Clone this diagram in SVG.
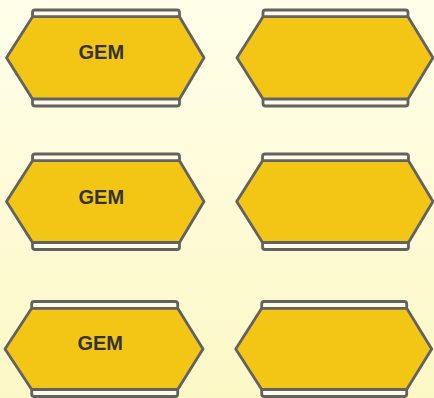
<svg xmlns="http://www.w3.org/2000/svg" width="434" height="398" viewBox="0 0 434 398">
<defs>
<linearGradient id="bg" x1="0" y1="0" x2="0" y2="1">
<stop offset="0" stop-color="#fffee9"/>
<stop offset="1" stop-color="#fcf8c6"/>
</linearGradient>
</defs>
<style>
.hex{fill:#f3c616;stroke:#626262;stroke-width:2.8;stroke-linejoin:round}
.bar{fill:#fffbe6;stroke:#626262;stroke-width:2.8}
.lbl{font-family:"Liberation Sans",Arial,sans-serif;font-weight:bold;font-size:20px;fill:#333;text-anchor:middle}
</style>
<rect width="434" height="398" fill="url(#bg)"/>
<g id="connectors"/>
<g id="n1">
<rect class="bar" x="32.5" y="10" width="147" height="8" rx="2.5"/>
<rect class="bar" x="32.5" y="98" width="147" height="8" rx="2.5"/>
<polygon class="hex" points="6.5,57.8 32.5,16.7 179.5,16.7 204,57.8 179.5,99 32.5,99"/>
<text class="lbl" x="101.3" y="58.7">GEM</text>
</g>
<g id="n2">
<rect class="bar" x="263" y="10" width="145" height="8" rx="2.5"/>
<rect class="bar" x="263" y="98" width="145" height="8" rx="2.5"/>
<polygon class="hex" points="237,57.8 263,16.7 408,16.7 433,57.8 408,99 263,99"/>
</g>
<g id="n3">
<rect class="bar" x="32.5" y="154" width="147" height="8" rx="2.5"/>
<rect class="bar" x="32.5" y="241.5" width="147" height="8" rx="2.5"/>
<polygon class="hex" points="6.5,201.5 32.5,160.7 179.5,160.7 204,201.5 179.5,242.5 32.5,242.5"/>
<text class="lbl" x="101.3" y="203.6">GEM</text>
</g>
<g id="n4">
<rect class="bar" x="262.5" y="154" width="146" height="8" rx="2.5"/>
<rect class="bar" x="262.5" y="241.5" width="146" height="8" rx="2.5"/>
<polygon class="hex" points="236.7,201.5 262.5,160.7 408.5,160.7 433,201.5 408.5,242.5 262.5,242.5"/>
</g>
<g id="n5">
<rect class="bar" x="31.7" y="301.5" width="146" height="8" rx="2.5"/>
<rect class="bar" x="31.7" y="388.5" width="146" height="8" rx="2.5"/>
<polygon class="hex" points="5,349 31.7,308.3 177.7,308.3 203,349 177.7,389.5 31.7,389.5"/>
<text class="lbl" x="100.2" y="349.6">GEM</text>
</g>
<g id="n6">
<rect class="bar" x="261.7" y="301.5" width="145" height="8" rx="2.5"/>
<rect class="bar" x="261.7" y="388.5" width="145" height="8" rx="2.5"/>
<polygon class="hex" points="235.7,349 261.7,308.3 406.7,308.3 431.7,349 406.7,389.5 261.7,389.5"/>
</g>
</svg>
